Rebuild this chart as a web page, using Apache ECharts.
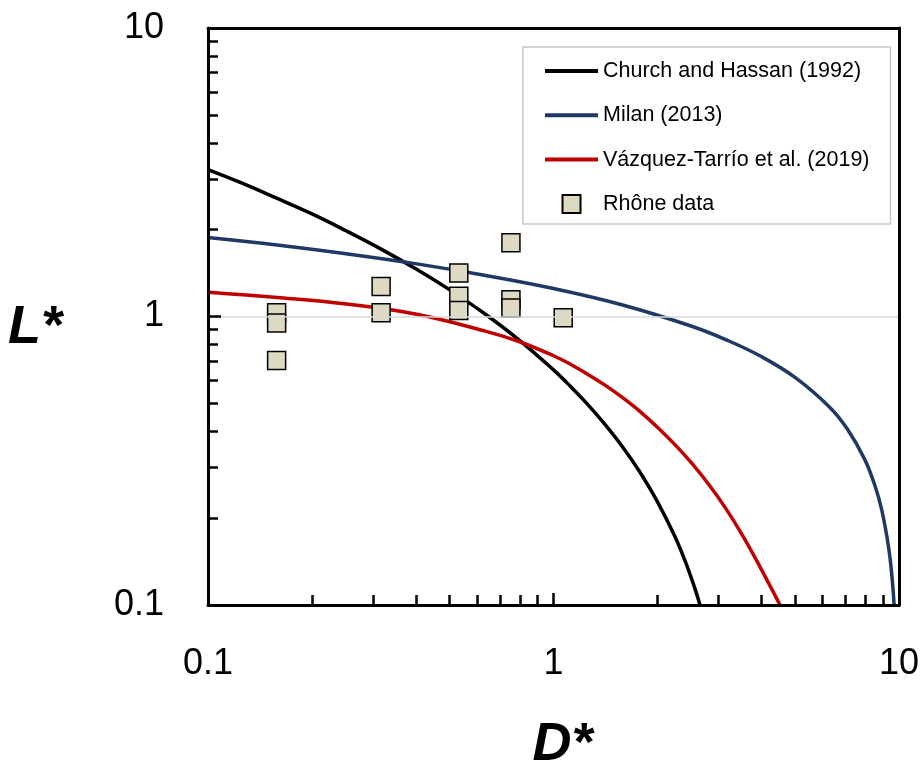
<!DOCTYPE html>
<html>
<head>
<meta charset="utf-8">
<script src="https://cdn.jsdelivr.net/npm/echarts@6/dist/echarts.min.js"></script>
<style>
html,body{margin:0;padding:0;background:#fff;}
#chart{width:921px;height:765px;}
</style>
</head>
<body>
<div id="chart"></div>
<script>
// ---- Data ----
const churchX = [0.1, 0.126, 0.158, 0.2, 0.251, 0.316, 0.398, 0.501, 0.631, 0.794, 1.0, 1.122, 1.259, 1.413, 1.585, 1.778, 1.995, 2.239, 2.399, 2.512, 2.570, 2.655];
const churchY = [3.23, 2.893, 2.571, 2.268, 1.982, 1.716, 1.467, 1.237, 1.024, 0.83, 0.653, 0.571, 0.494, 0.421, 0.353, 0.289, 0.229, 0.174, 0.143, 0.123, 0.1135, 0.1];

const milanX = [0.1, 0.1585, 0.2512, 0.3981, 0.631, 1.0, 1.585, 2.512, 3.162, 3.981, 5.012, 6.31, 7.079, 7.943, 8.511, 8.913, 9.333, 9.55, 9.68];
const milanY = [1.88, 1.77, 1.65, 1.525, 1.39, 1.25, 1.096, 0.925, 0.83, 0.728, 0.614, 0.484, 0.408, 0.321, 0.26, 0.2135, 0.158, 0.124, 0.1];

const vtX = [0.1, 0.1585, 0.2512, 0.3981, 0.631, 0.7943, 1.0, 1.122, 1.259, 1.413, 1.585, 1.778, 1.995, 2.239, 2.512, 2.818, 3.162, 3.548, 3.981, 4.525];
const vtY = [1.213, 1.164, 1.105, 1.02, 0.892, 0.819, 0.731, 0.682, 0.630, 0.577, 0.523, 0.469, 0.414, 0.361, 0.310, 0.261, 0.215, 0.172, 0.134, 0.1];

const rhoneX = [0.158, 0.158, 0.158, 0.317, 0.317, 0.532, 0.532, 0.532, 0.753, 0.753, 0.753, 1.067];
const rhoneY = [1.03, 0.95, 0.704, 1.27, 1.03, 1.415, 1.175, 1.05, 1.80, 1.143, 1.07, 0.99];

const seriesNames = ['Church and Hassan (1992)', 'Milan (2013)', 'Vázquez-Tarrío et al. (2019)', 'Rhône data'];
const majorTicks = [0.1, 1, 10];
const minorTicks = [0.2, 0.3, 0.4, 0.5, 0.6, 0.7, 0.8, 0.9, 2, 3, 4, 5, 6, 7, 8, 9];
const xAxisTitle = 'D*';
const yAxisTitle = 'L*';

function pairs(xs, ys) { return xs.map((x, i) => [x, ys[i]]); }

const FONT = '"Liberation Sans", Arial, sans-serif';

const chart = echarts.init(document.getElementById('chart'), null, { renderer: 'canvas' });

const baseAxis = { type: 'log', logBase: 10, min: 0.1, max: 10 };

const frameAxis = (pos) => Object.assign({}, baseAxis, {
  position: pos, z: 6,
  axisLine: { show: true, onZero: false, lineStyle: { color: '#000', width: 3 } },
  axisTick: { show: false }, axisLabel: { show: false }, splitLine: { show: false }
});

const titleStyle = { fontFamily: FONT, fontSize: 54, fontWeight: 'bold', fontStyle: 'italic', color: '#000' };

const option = {
  animation: false,
  backgroundColor: '#fff',
  textStyle: { fontFamily: FONT },
  grid: { left: 208, right: 22, top: 28, bottom: 160, outerBoundsMode: 'none', containLabel: false },
  legend: {
    orient: 'vertical',
    left: 523, top: 47,
    padding: [13, 21, 9, 20],
    itemGap: 22.3,
    itemWidth: 53, itemHeight: 18,
    borderColor: '#c8c8c8', borderWidth: 1.5,
    backgroundColor: '#fff',
    lineStyle: { width: 4 },
    textStyle: { fontFamily: FONT, fontSize: 21.5, color: '#000' },
    data: [
      { name: seriesNames[0], itemStyle: { opacity: 0 } },
      { name: seriesNames[1], itemStyle: { opacity: 0 } },
      { name: seriesNames[2], itemStyle: { opacity: 0 } },
      { name: seriesNames[3] }
    ]
  },
  xAxis: [
    Object.assign({}, baseAxis, {
      position: 'bottom', z: 5,
      name: xAxisTitle, nameLocation: 'middle', nameGap: 113,
      nameTextStyle: Object.assign({}, titleStyle, { padding: [0, 0, 0, 18] }),
      axisLine: { show: true, onZero: false, lineStyle: { color: '#000', width: 3 } },
      axisTick: { show: true, inside: true, length: 12, lineStyle: { color: '#000', width: 2.5 }, customValues: majorTicks },
      axisLabel: { show: true, fontFamily: FONT, fontSize: 36, color: '#000', margin: 41, customValues: majorTicks },
      splitLine: { show: false }
    }),
    Object.assign({}, baseAxis, {
      position: 'bottom',
      axisLine: { show: false },
      axisTick: { show: true, inside: true, length: 10, lineStyle: { color: '#000', width: 2.5 }, customValues: minorTicks },
      axisLabel: { show: false },
      splitLine: { show: false }
    }),
    frameAxis('top')
  ],
  yAxis: [
    Object.assign({}, baseAxis, {
      position: 'left', z: 5,
      name: '{t|' + yAxisTitle + '}', nameLocation: 'middle', nameGap: 146, nameRotate: 0,
      nameTextStyle: { rich: { t: Object.assign({}, titleStyle, { padding: [24, 0, 0, 0] }) } },
      axisLine: { show: true, onZero: false, lineStyle: { color: '#000', width: 3 } },
      axisTick: { show: true, inside: true, length: 13, lineStyle: { color: '#000', width: 2.5 }, customValues: majorTicks },
      axisLabel: { show: true, fontFamily: FONT, fontSize: 36, color: '#000', margin: 44, customValues: majorTicks },
      splitLine: { show: true, lineStyle: { color: '#d9d9d9', width: 1.5 } }
    }),
    Object.assign({}, baseAxis, {
      position: 'left',
      axisLine: { show: false },
      axisTick: { show: true, inside: true, length: 10, lineStyle: { color: '#000', width: 2.5 }, customValues: minorTicks },
      axisLabel: { show: false },
      splitLine: { show: false }
    }),
    frameAxis('right')
  ],
  series: [
    {
      name: seriesNames[0], type: 'line', xAxisIndex: 0, yAxisIndex: 0,
      data: pairs(churchX, churchY), smooth: 0.4, showSymbol: false, symbol: 'none',
      lineStyle: { color: '#000000', width: 3.5 }, itemStyle: { color: '#000000' }, z: 3
    },
    {
      name: seriesNames[1], type: 'line', xAxisIndex: 0, yAxisIndex: 0,
      data: pairs(milanX, milanY), smooth: 0.4, showSymbol: false, symbol: 'none',
      lineStyle: { color: '#1f3864', width: 3.5 }, itemStyle: { color: '#1f3864' }, z: 3
    },
    {
      name: seriesNames[2], type: 'line', xAxisIndex: 0, yAxisIndex: 0,
      data: pairs(vtX, vtY), smooth: 0.4, showSymbol: false, symbol: 'none',
      lineStyle: { color: '#c00000', width: 3.5 }, itemStyle: { color: '#c00000' }, z: 3
    },
    {
      name: seriesNames[3], type: 'scatter', xAxisIndex: 0, yAxisIndex: 0,
      data: pairs(rhoneX, rhoneY),
      symbol: 'path://M0 0H10V10H0Z', symbolKeepAspect: true, symbolSize: 18,
      itemStyle: { color: '#ddd9c3', borderColor: '#000', borderWidth: 1.5, opacity: 1 }, z: 4
    }
  ]
};
chart.setOption(option);
</script>
</body>
</html>
